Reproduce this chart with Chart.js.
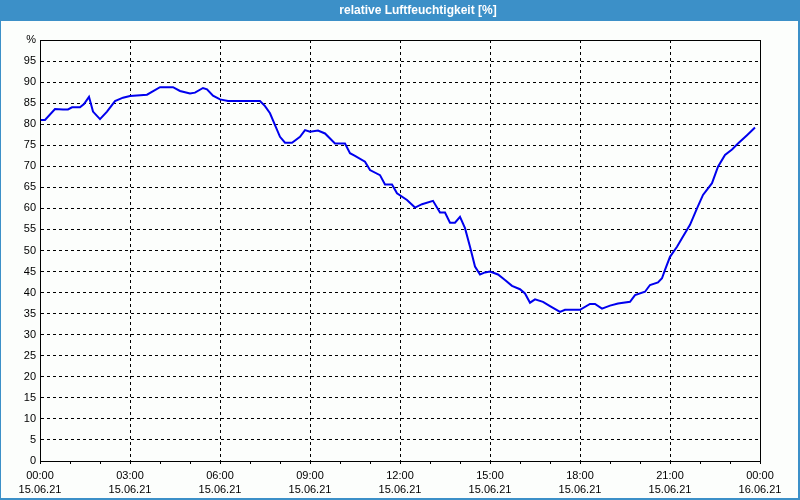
<!DOCTYPE html>
<html lang="de">
<head>
  <meta charset="UTF-8" />
  <title>relative Luftfeuchtigkeit</title>
  <script src="https://cdn.jsdelivr.net/npm/chart.js"></script>
  <style>
    body {
      margin: 0;
      background: #fff;
    }
  </style>
</head>
<body>
  <canvas id="humChart" width="800" height="500"></canvas>

  <script>
    // minutes since 15.06.21 00:00
    const minutes = [0, 10, 30, 46, 56, 64, 80, 88, 98, 106, 120, 134, 150, 166, 180, 214, 240, 266, 280, 300,
      310, 326, 334, 346, 360, 376, 440, 450, 460, 480, 490, 504, 520, 530, 540, 556, 570, 590, 610, 620,
      630, 650, 660, 680, 690, 704, 714, 734, 750, 764, 786, 800, 810, 820, 830, 840, 850, 860, 870, 880,
      890, 900, 916, 930, 944, 960, 970, 980, 990, 1006, 1020, 1040, 1050, 1080, 1100, 1110, 1124, 1140, 1156, 1180,
      1190, 1210, 1220, 1236, 1244, 1250, 1260, 1274, 1286, 1300, 1314, 1326, 1344, 1356, 1370, 1384, 1396, 1414, 1430];
    // relative humidity in %
    const humidity = [81.0, 81.0, 83.6, 83.5, 83.5, 84.0, 84.0, 84.8, 86.5, 83.0, 81.2, 83.0, 85.5, 86.3, 86.7, 87.0, 88.8, 88.8, 87.9, 87.3,
      87.5, 88.6, 88.3, 86.8, 85.9, 85.5, 85.5, 84.3, 82.6, 77.0, 75.6, 75.6, 77.0, 78.6, 78.2, 78.5, 77.8, 75.4, 75.4, 73.1,
      72.5, 71.1, 69.1, 67.9, 65.7, 65.7, 63.6, 62.0, 60.2, 61.0, 61.8, 59.0, 59.0, 56.6, 56.6, 58.0, 55.3, 50.9, 46.2, 44.3,
      44.8, 45.0, 44.3, 43.0, 41.6, 40.8, 39.8, 37.6, 38.4, 37.8, 36.8, 35.4, 35.9, 35.9, 37.3, 37.3, 36.2, 36.9, 37.4, 37.8,
      39.4, 40.2, 41.8, 42.4, 43.4, 45.4, 48.5, 50.9, 53.3, 56.1, 60.0, 63.2, 66.0, 69.9, 72.7, 74.0, 75.4, 77.4, 79.2];

    const timeLabels = ['00:00', '03:00', '06:00', '09:00', '12:00', '15:00', '18:00', '21:00', '00:00'];
    const dateLabels = ['15.06.21', '15.06.21', '15.06.21', '15.06.21', '15.06.21', '15.06.21', '15.06.21', '15.06.21', '16.06.21'];

    const frame = {
      id: 'frame',
      afterLayout(chart) {
        // title in the original sits a little right of centre
        if (chart.titleBlock) chart.titleBlock.left += 36;
      },
      beforeDraw(chart) {
        const ctx = chart.ctx;
        ctx.save();
        ctx.fillStyle = '#fcfefc';
        ctx.fillRect(0, 0, chart.width, chart.height);
        ctx.fillStyle = '#3c90c8';
        ctx.fillRect(0, 0, chart.width, 21);
        ctx.restore();
      },
      afterDraw(chart) {
        const ctx = chart.ctx;
        const a = chart.chartArea;
        ctx.save();
        ctx.strokeStyle = '#000';
        ctx.lineWidth = 1;
        ctx.strokeRect(Math.round(a.left) + 0.5, Math.round(a.top) + 0.5,
          Math.round(a.right - a.left), Math.round(a.bottom - a.top));
        ctx.fillStyle = '#3c90c8';
        ctx.fillRect(0, 0, 1, chart.height);
        ctx.fillRect(chart.width - 2, 0, 2, chart.height);
        ctx.fillRect(0, chart.height - 2, chart.width, 2);
        ctx.restore();
      }
    };

    const tickFont = { family: 'Liberation Sans', size: 11, lineHeight: 1.36 };

    new Chart(document.getElementById('humChart'), {
      type: 'line',
      data: {
        datasets: [{
          data: minutes.map((m, i) => ({ x: m, y: humidity[i] })),
          borderColor: '#0000ee',
          borderWidth: 2,
          pointRadius: 0,
          tension: 0,
          fill: false
        }]
      },
      options: {
        responsive: false,
        animation: false,
        layout: { padding: 0 },
        plugins: {
          legend: { display: false },
          tooltip: { enabled: false },
          title: {
            display: true,
            text: 'relative Luftfeuchtigkeit [%]',
            color: '#ffffff',
            font: { family: 'Liberation Sans', size: 12, weight: 'bold', lineHeight: 1.2 },
            padding: { top: 3.3, bottom: 22.3 }
          }
        },
        scales: {
          x: {
            type: 'linear',
            min: 0,
            max: 1440,
            afterFit(s) { s.height = 39; },
            ticks: {
              stepSize: 60,
              autoSkip: false,
              maxRotation: 0,
              padding: 4,
              color: '#000',
              font: tickFont,
              callback(v) {
                if (v % 180 !== 0) return '';
                const i = v / 180;
                return [timeLabels[i], dateLabels[i]];
              }
            },
            grid: {
              color: c => (c.tick && c.tick.value % 180 === 0) ? '#000' : 'rgba(0,0,0,0)',
              tickColor: '#000',
              tickLength: 3,
              lineWidth: 1
            },
            border: { color: '#000', dash: [3, 3] }
          },
          y: {
            min: 0,
            max: 100,
            afterFit(s) { s.width = 40; },
            ticks: {
              stepSize: 5,
              autoSkip: false,
              padding: 4,
              color: '#000',
              font: tickFont,
              callback: v => v === 100 ? '%' : v
            },
            grid: { color: '#000', drawTicks: false, lineWidth: 1 },
            border: { color: '#000', dash: [3, 3] }
          },
          yR: {
            position: 'right',
            min: 0,
            max: 100,
            afterFit(s) { s.width = 40; },
            ticks: { display: false },
            grid: { display: false, drawTicks: false },
            border: { display: false }
          }
        }
      },
      plugins: [frame]
    });
  </script>
</body>
</html>
